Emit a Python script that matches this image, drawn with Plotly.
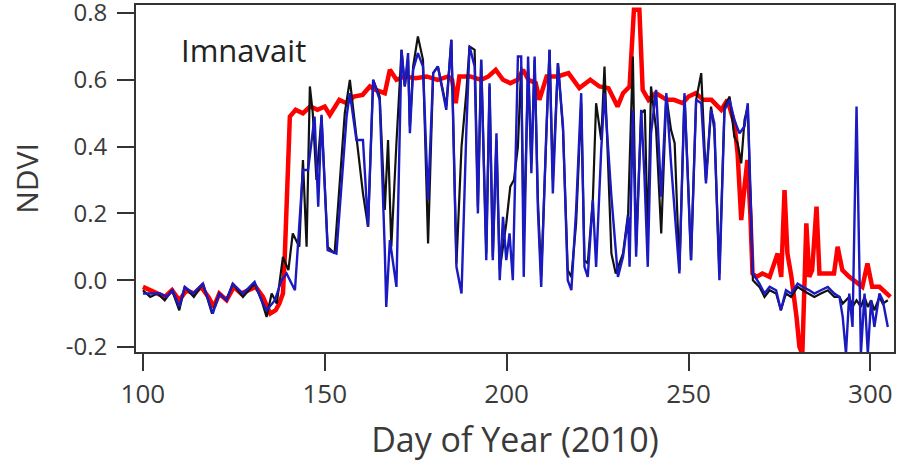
import plotly.graph_objects as go

# ---- data (Day of Year, NDVI) ----
red_days = [100, 102, 104, 106, 108, 110, 112, 114, 116, 118, 119.5, 121, 123, 125, 127, 129, 131, 133, 135,
            136.5, 137.5, 138.5, 139, 140.4, 142, 144, 146, 148, 150, 151.4, 154, 156, 158, 160.4, 162.4, 164,
            166.5, 167.9, 169.7, 172, 175, 178, 181, 184, 185, 186, 187, 190, 193, 195, 197, 199, 201, 203,
            204.5, 206, 208, 209, 211, 214, 217, 220, 223, 225.5, 228, 230.5, 232, 233.8, 235, 236.5, 237.4,
            239, 241, 244, 246, 248.4, 250, 252, 254, 256.3, 259, 260.7, 262.6, 263.5, 264.5, 265.4, 266.2,
            267.0, 267.6, 268.7, 270.3, 272.3, 273.6, 274.5, 275.5, 276.4, 277.2, 278.3, 279.7, 280.5, 281.3,
            282.4, 283.2, 284, 285.2, 286, 288, 290, 291, 292.3, 294.2, 296.4, 297.8, 299.2, 300.5, 302.5,
            304.7, 305.5]
red_ndvi = [-0.02, -0.03, -0.04, -0.05, -0.03, -0.06, -0.03, -0.04, -0.02, -0.05, -0.08, -0.04, -0.06, -0.02,
            -0.04, -0.03, -0.02, -0.05, -0.10, -0.09, -0.07, -0.04, 0.07, 0.49, 0.51, 0.50, 0.52, 0.51, 0.52,
            0.495, 0.54, 0.53, 0.55, 0.555, 0.58, 0.57, 0.56, 0.63, 0.60, 0.61, 0.605, 0.61, 0.60, 0.61, 0.60,
            0.53, 0.61, 0.61, 0.60, 0.61, 0.63, 0.60, 0.59, 0.60, 0.63, 0.60, 0.59, 0.54, 0.61, 0.61, 0.62,
            0.575, 0.60, 0.58, 0.575, 0.52, 0.56, 0.58, 0.81, 0.81, 0.57, 0.54, 0.56, 0.54, 0.54, 0.53, 0.55,
            0.56, 0.54, 0.54, 0.51, 0.54, 0.47, 0.38, 0.18, 0.28, 0.36, 0.20, 0.02, 0.01, 0.02, 0.01, 0.05,
            0.08, 0.01, 0.27, 0.08, 0.01, -0.11, -0.20, -0.22, 0.17, 0.01, 0.03, 0.22, 0.02, 0.02, 0.02, 0.10,
            0.03, 0.01, -0.01, -0.02, 0.05, -0.02, -0.02, -0.04, -0.05]

black_days = [100, 102, 104, 106, 108, 110, 111.5, 114, 116.5, 119, 121, 123, 124.7, 127.5, 130.7, 132.6, 134,
              135.4, 136.8, 138.5, 140, 141.2, 143, 144, 145, 145.9, 146.7, 147.7, 149.1, 150.8, 152.7, 155.5,
              156.9, 158.7, 160.5, 161.9, 163.3, 165.1, 166.5, 167.4, 168.3, 169.7, 171.1, 172, 172.9, 173.4,
              174.3, 175.6, 177, 178.4, 179.8, 181.1, 183.4, 184.8, 186.2, 187.6, 188.9, 189.8, 191.2, 192.1,
              193, 194.4, 195.3, 196.2, 197.2, 198.1, 199.9, 201, 202, 203.1, 204, 204.7, 205.9, 206.8, 207.7,
              208.6, 209.5, 210.9, 211.8, 212.7, 214.1, 215.5, 216.8, 217.8, 219.1, 220.5, 221.4, 222.3, 223.7,
              224.6, 226, 226.9, 228.8, 230, 232, 233.4, 234.7, 235.6, 237, 238, 238.8, 239.7, 241.1, 242.5,
              243.9, 245.2, 246.2, 247.5, 248.9, 249.8, 250.7, 252.1, 253.5, 254.8, 256.2, 257.1, 258.5, 259.9,
              261.3, 262.6, 263.5, 264.5, 265.4, 266.3, 267.7, 269.5, 270.9, 272.3, 274.1, 275.4, 276.8, 278.2,
              280, 281.4, 283.2, 284.6, 286.4, 288.3, 290.1, 291.5, 292.4, 293.3, 294.2, 295.1, 296.2, 297.4,
              298.4, 299.3, 300.2, 301.1, 302.5, 303.4, 304.8]
black_ndvi = [-0.03, -0.05, -0.04, -0.06, -0.03, -0.09, -0.02, -0.05, -0.01, -0.10, -0.04, -0.06, -0.01, -0.05,
              -0.01, -0.06, -0.11, -0.04, -0.07, 0.07, 0.03, 0.14, 0.10, 0.36, 0.10, 0.58, 0.50, 0.30, 0.49,
              0.10, 0.08, 0.50, 0.60, 0.42, 0.26, 0.16, 0.60, 0.55, 0.21, 0.42, 0.10, 0.41, 0.69, 0.58, 0.66,
              0.46, 0.64, 0.73, 0.66, 0.11, 0.62, 0.64, 0.52, 0.72, 0.05, 0.40, 0.56, 0.70, 0.69, 0.22, 0.66,
              0.08, 0.58, 0.07, 0.42, 0.03, 0.17, 0.28, 0.30, 0.40, 0.64, 0.12, 0.63, 0.35, 0.66, 0.24, 0.01,
              0.43, 0.69, 0.30, 0.65, 0.45, 0.03, 0.01, 0.17, 0.53, 0.06, 0.05, 0.24, 0.53, 0.42, 0.64, 0.08,
              0.02, 0.08, 0.20, 0.67, 0.10, 0.50, 0.51, 0.12, 0.58, 0.45, 0.14, 0.55, 0.45, 0.41, 0.03, 0.55,
              0.32, 0.06, 0.54, 0.62, 0.30, 0.52, 0.45, 0.02, 0.52, 0.55, 0.43, 0.41, 0.35, 0.48, 0.52, 0.0,
              -0.02, -0.05, -0.03, -0.04, -0.09, -0.04, -0.05, -0.02, -0.03, -0.04, -0.05, -0.04, -0.03, -0.05,
              -0.05, -0.07, -0.06, -0.05, -0.08, -0.06, -0.08, -0.05, -0.08, -0.06, -0.09, -0.05, -0.07, -0.06]

blue_days = [100, 102, 104.7, 106.6, 108.2, 110, 111.5, 113.8, 116.5, 119.2, 121, 123, 124.7, 127.5, 130.7,
             132.6, 134, 136.3, 138.1, 139.5, 141.8, 144, 145.4, 147.2, 148.2, 149.1, 150.8, 153.2, 156, 156.9,
             158.7, 160.5, 161.9, 163.3, 165.1, 166.5, 166.9, 167.9, 169.7, 171.1, 172, 172.9, 173.4, 174.3,
             175.6, 177, 178.4, 179.8, 181.1, 183.4, 184.8, 186.2, 187.6, 188.9, 189.8, 191.2, 192.1, 193,
             194.4, 195.3, 196.2, 197.2, 198.1, 199, 199.9, 200.8, 201.7, 203.1, 204, 204.7, 205.9, 206.8,
             207.7, 208.6, 209.5, 210.9, 211.8, 212.7, 214.1, 215.5, 216.8, 217.8, 219.1, 220.5, 221.4, 222.3,
             223.7, 224.6, 226, 226.9, 228.8, 230.6, 232, 233.4, 233.8, 234.7, 235.6, 237, 237.9, 238.8, 239.7,
             241.1, 242.5, 243.9, 245.2, 247.5, 248.9, 249.8, 250.7, 252.1, 253.5, 254.8, 256.2, 257.1, 258.5,
             259.9, 261.3, 262.6, 264, 265.4, 266.3, 267.7, 269.5, 270.9, 272.3, 274.1, 275.4, 276.8, 278.2,
             280, 281.4, 283.2, 284.6, 286.4, 288.3, 290.1, 291.5, 292.4, 293.3, 294.2, 295.1, 296.2, 297.4,
             298.4, 299.3, 300.2, 301.1, 302.5, 303.4, 304.8]
blue_ndvi = [-0.04, -0.04, -0.04, -0.05, -0.03, -0.08, -0.02, -0.04, -0.01, -0.10, -0.04, -0.06, -0.01, -0.04,
             -0.005, -0.06, -0.09, -0.06, 0.0, 0.02, -0.03, 0.33, 0.33, 0.49, 0.22, 0.495, 0.09, 0.08, 0.49,
             0.56, 0.42, 0.42, 0.16, 0.60, 0.54, 0.09, -0.08, 0.12, -0.02, 0.69, 0.58, 0.68, 0.44, 0.63, 0.68,
             0.64, 0.24, 0.62, 0.64, 0.51, 0.72, 0.04, -0.04, 0.44, 0.70, 0.64, 0.20, 0.66, 0.06, 0.59, 0.06,
             0.44, 0.0, 0.19, 0.06, 0.14, 0.0, 0.67, 0.67, 0.01, 0.67, 0.32, 0.67, 0.21, -0.02, 0.44, 0.69,
             0.26, 0.65, 0.46, 0.0, -0.03, 0.21, 0.56, 0.04, 0.01, 0.24, 0.04, 0.39, 0.56, 0.25, 0.01, 0.07,
             0.19, 0.04, 0.51, 0.07, 0.51, 0.31, 0.04, 0.44, 0.57, 0.25, 0.56, 0.35, 0.02, 0.56, 0.31, 0.06,
             0.54, 0.53, 0.29, 0.51, 0.47, 0.0, 0.51, 0.54, 0.48, 0.44, 0.46, 0.53, 0.02, -0.01, -0.04, -0.02,
             -0.03, -0.09, -0.03, -0.04, -0.01, -0.02, -0.03, -0.04, -0.03, -0.02, -0.04, -0.05, -0.11, -0.22,
             -0.04, -0.14, 0.52, -0.22, -0.04, -0.22, -0.06, -0.14, -0.04, -0.06, -0.14]

x_ticks = [100, 150, 200, 250, 300]
y_ticks = [-0.2, 0.0, 0.2, 0.4, 0.6, 0.8]
site_label = "Imnavait"

FONT = "Open Sans, sans-serif"
AX = "#333333"
TXT = "#3a3a3a"

fig = go.Figure()
fig.add_trace(go.Scatter(x=red_days, y=red_ndvi, mode="lines",
                         line=dict(color="#ff0000", width=4.5), showlegend=False))
fig.add_trace(go.Scatter(x=black_days, y=black_ndvi, mode="lines",
                         line=dict(color="#111111", width=2.2), showlegend=False))
fig.add_trace(go.Scatter(x=blue_days, y=blue_ndvi, mode="lines",
                         line=dict(color="#1a1ac0", width=2.4), showlegend=False))

fig.add_annotation(x=110.0, y=0.69, xref="x", yref="y", text=site_label, showarrow=False,
                   xanchor="left", yanchor="middle", font=dict(family=FONT, size=31, color="#222222"))

fig.update_layout(
    width=900, height=462,
    margin=dict(l=136, r=6, t=5, b=110),
    paper_bgcolor="white", plot_bgcolor="white",
    font=dict(family=FONT, color=TXT),
)
fig.update_xaxes(
    range=[98.1, 306.5], tickvals=x_ticks, ticktext=[str(v) for v in x_ticks],
    automargin=False, ticklabeloverflow="allow",
    showgrid=False, zeroline=False, showline=True, mirror=True, linecolor=AX, linewidth=2,
    ticks="outside", ticklen=17, tickwidth=2, tickcolor=AX, ticklabelstandoff=1,
    tickfont=dict(family=FONT, size=26, color=TXT),
    title=dict(text="Day of Year (2010)", font=dict(family=FONT, size=34, color=TXT), standoff=24),
)
fig.update_yaxes(
    range=[-0.215, 0.824], tickvals=y_ticks, ticktext=[f"{v:.1f}" for v in y_ticks],
    automargin=False, ticklabeloverflow="allow",
    showgrid=False, zeroline=False, showline=True, mirror=True, linecolor=AX, linewidth=2,
    ticks="outside", ticklen=17, tickwidth=2, tickcolor=AX, ticklabelstandoff=5,
    tickfont=dict(family=FONT, size=24, color=TXT),
    title=dict(text="NDVI", font=dict(family=FONT, size=30, color=TXT), standoff=18),
)

fig.write_html("out.html", config={"displayModeBar": False},
               post_script="document.body.style.margin='0px';")
